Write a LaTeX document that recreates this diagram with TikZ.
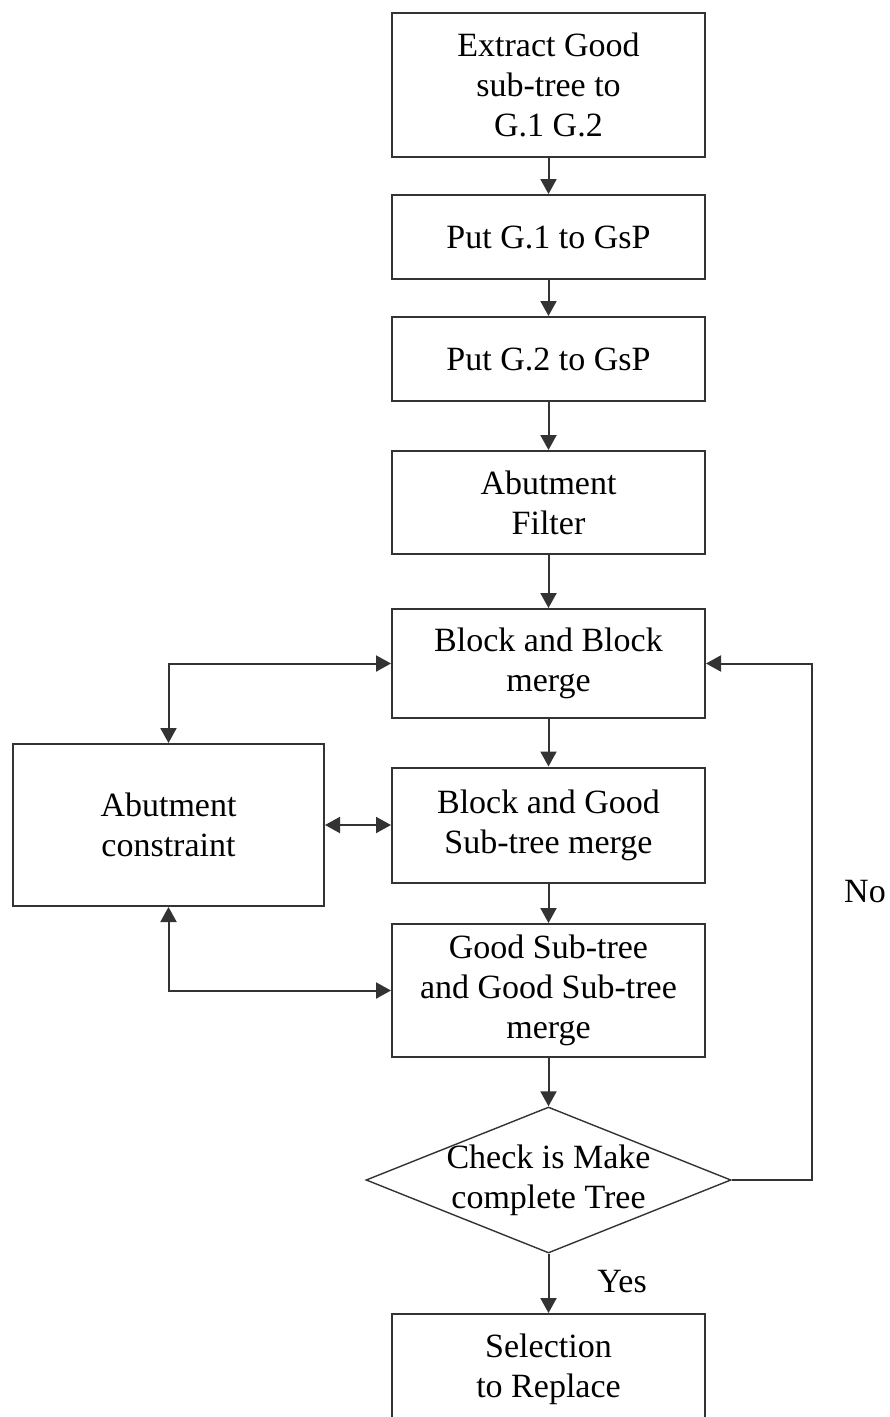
\documentclass[tikz,border=0pt]{standalone}
\usepackage{fontspec}
\setmainfont{Liberation Serif}
\usetikzlibrary{shapes.geometric,arrows.meta}

\begin{document}
\begin{tikzpicture}[
  x=1pt, y=1pt,
  >={Triangle[length=15pt,width=16pt]},
  stepbox/.style={rectangle, draw=black!80, line width=2pt,
                  minimum width=313pt, align=center,
                  font=\fontsize{34}{40}\selectfont},
  sidebox/.style={stepbox, minimum width=311pt, minimum height=162pt},
  checkbox/.style={diamond, aspect=2.5, draw=black!80, line width=1.4pt,
                   inner sep=-4pt, minimum width=365pt, minimum height=146pt,
                   align=center, font=\fontsize{34}{40}\selectfont},
  flow/.style={->, line width=2pt, draw=black!80},
  both/.style={<->, line width=2pt, draw=black!80},
  tag/.style={font=\fontsize{34}{40}\selectfont}
]
\useasboundingbox (0,0) rectangle (890,-1417);

\node[stepbox, minimum height=144pt] (ext)  at (548.5,-85)    {Extract Good\\sub-tree to\\ G.1 G.2};
\node[stepbox, minimum height=84pt]  (put1) at (548.5,-237)   {Put G.1 to GsP};
\node[stepbox, minimum height=84pt]  (put2) at (548.5,-359)   {Put G.2 to GsP};
\node[stepbox, minimum height=103pt] (filt) at (548.5,-502.5) {Abutment\\ Filter};
\node[stepbox, minimum height=109pt] (bb)   at (548.5,-663.5) {Block and Block\\merge};
\node[stepbox, minimum height=115pt] (bg)   at (548.5,-825)   {Block and Good\\Sub-tree merge};
\node[stepbox, minimum height=133pt] (gg)   at (548.5,-990.5) {Good Sub-tree\\and Good Sub-tree\\merge};
\node[checkbox]                      (chk)  at (548.5,-1180)  {Check is Make\\complete Tree};
\node[stepbox, minimum height=110pt] (sel)  at (548.5,-1369)  {Selection\\to Replace};

\node[sidebox] (abc) at (168.5,-825) {Abutment\\constraint};

\node[tag] (yes) at (622,-1282) {Yes};
\node[tag] (no)  at (865,-892)  {No};
\coordinate (loop) at (812,-1180);

\draw[flow] (ext) -- (put1);
\draw[flow] (put1) -- (put2);
\draw[flow] (put2) -- (filt);
\draw[flow] (filt) -- (bb);
\draw[flow] (bb) -- (bg);
\draw[flow] (bg) -- (gg);
\draw[flow] (gg) -- (chk);
\draw[flow] (chk) -- (sel);

\draw[both] (bb.west) -| (abc.north);
\draw[both] (abc.east) -- (bg.west);
\draw[both] (gg.west) -| (abc.south);

\draw[flow] (chk.east) -- (loop) |- (bb.east);
\end{tikzpicture}
\end{document}
